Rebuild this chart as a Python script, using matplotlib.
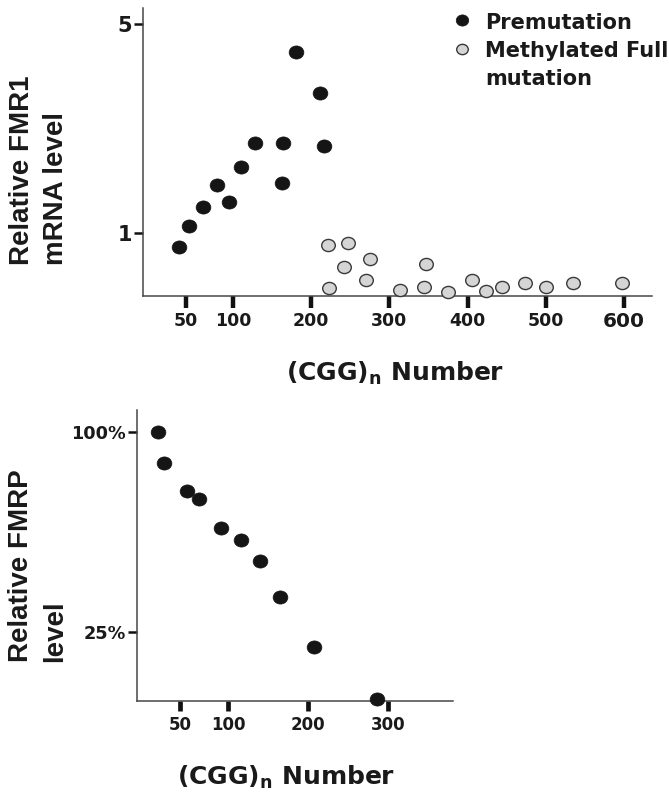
import numpy as np
import matplotlib
matplotlib.use("Agg")
import matplotlib.pyplot as plt
from matplotlib.path import Path
from matplotlib.transforms import Affine2D
from matplotlib.ticker import NullLocator
from matplotlib import font_manager as fm

# ---------------- data ----------------
pre_cgg = [42, 53, 68, 83, 96, 110, 128, 163, 164, 181, 211, 216]
pre_mrna = [0.90, 1.06, 1.22, 1.45, 1.27, 1.66, 2.00, 1.47, 2.00, 4.02, 2.94, 1.96]

full_cgg = [222, 223, 242, 247, 270, 275, 314, 344, 347, 375, 406, 424, 444, 473, 500, 535, 597]
full_mrna = [0.912, 0.654, 0.772, 0.928, 0.698, 0.821, 0.648, 0.662, 0.790, 0.637,
             0.698, 0.640, 0.662, 0.682, 0.662, 0.682, 0.682]

fmrp_cgg = [27, 33, 57, 70, 93, 116, 140, 165, 207, 286]
fmrp_pct = [100, 88.6, 78.0, 74.9, 64.2, 59.6, 51.6, 38.1, 19.6, 0]

top_xticks = [50, 100, 200, 300, 400, 500, 600]
top_yticks = [1, 5]
bot_xticks = [50, 100, 200, 300]
bot_yticks = [25, 100]
bot_ylabels = ["25%", "100%"]

legend_labels = ["Premutation", "Methylated Full\nmutation"]

# ---------------- style ----------------
W, H = 669, 796
fig = plt.figure(figsize=(W / 100, H / 100), dpi=100)
TXT = "#1a1a1a"
HF = "DejaVu Sans"
names = {f.name for f in fm.fontManager.ttflist}
if "Liberation Sans Narrow" in names:
    YFAM, YSIZE = "Liberation Sans Narrow", 24
else:
    YFAM, YSIZE = "Liberation Sans", 20

# slightly wide ellipse marker (the figure is stretched horizontally)
ell = Path.unit_circle().transformed(Affine2D().scale(1.12, 1.0))


def fwd(x):
    x = np.asarray(x, float)
    return np.where(x < 100, 100 - (100 - x) * 1.2, x)


def inv(u):
    u = np.asarray(u, float)
    return np.where(u < 100, 100 - (100 - u) / 1.2, u)


def style_axes(ax, xlen, xw, ylen, yw):
    for s in ("top", "right"):
        ax.spines[s].set_visible(False)
    for s in ("left", "bottom"):
        ax.spines[s].set_color("#474747")
        ax.spines[s].set_linewidth(1.1)
    ax.tick_params(axis="x", direction="out", length=xlen, width=xw, color="#111111", pad=3)
    ax.tick_params(axis="y", direction="out", length=ylen, width=yw, color="#111111", pad=1.5)
    ax.xaxis.set_minor_locator(NullLocator())
    ax.yaxis.set_minor_locator(NullLocator())


def px_box(l, t, r, b):
    return [l / W, 1 - b / H, (r - l) / W, (b - t) / H]


# ---------------- top panel ----------------
ax1 = fig.add_axes(px_box(143, 8.3, 652, 296))
ax1.set_xscale("function", functions=(fwd, inv))
ax1.set_yscale("log")
ax1.set_xlim(4.1, 635.8)
ax1.set_ylim(0.617, 5.64)

h1, = ax1.plot(pre_cgg, pre_mrna, ls="none", marker=ell, ms=10.6,
               mfc="#151515", mec="#151515", mew=0.5, label=legend_labels[0], zorder=3)
h2, = ax1.plot(full_cgg, full_mrna, ls="none", marker=ell, ms=9.8,
               mfc="#d5d5d5", mec="#3a3a3a", mew=1.0, label=legend_labels[1], zorder=3,
               clip_on=False)

style_axes(ax1, 8.5, 3.2, 6.5, 1.8)
ax1.set_xticks(top_xticks, [str(v) for v in top_xticks],
               fontsize=12.5, fontweight="bold", family=HF, color=TXT)
ax1.get_xticklabels()[-1].set_fontsize(14.5)
ax1.set_yticks(top_yticks, [str(v) for v in top_yticks],
               fontsize=15, fontweight="bold", family=HF, color=TXT)

ax1.set_xlabel(r"(CGG)$_{\mathregular{n}}$ Number", fontsize=18, fontweight="bold",
               family=HF, color=TXT)
ax1.xaxis.set_label_coords(395 / W, 1 - 381 / H, transform=fig.transFigure)
ax1.xaxis.label.set_va("baseline")

ax1.set_ylabel("Relative FMR1\nmRNA level", fontsize=YSIZE, fontweight="bold",
               family=YFAM, color=TXT, multialignment="left", linespacing=1.4)
ax1.yaxis.set_label_coords(39 / W, 1 - 265 / H, transform=fig.transFigure)
ax1.yaxis.label.set_rotation_mode("default")
ax1.yaxis.label.set_ha("center")
ax1.yaxis.label.set_va("bottom")

fs_leg = 15
leg = ax1.legend(handles=[h1, h2], labels=legend_labels, loc="upper left",
                 bbox_to_anchor=(453.4 / W, 1 - 12.7 / H), bbox_transform=fig.transFigure,
                 frameon=False, borderpad=0, borderaxespad=0, handlelength=0.8,
                 handletextpad=0.72, labelspacing=0.42, markerscale=0.85,
                 prop={"family": HF, "weight": "bold", "size": fs_leg})
for t in leg.get_texts():
    t.set_color(TXT)
    t.set_linespacing(1.5)
try:
    col = leg._legend_handle_box.get_children()[0]
    for item in col.get_children():
        item.align = "top"
except Exception:
    pass

# ---------------- bottom panel ----------------
ax2 = fig.add_axes(px_box(136.7, 410, 452.7, 701))
ax2.set_xscale("function", functions=(fwd, inv))
ax2.set_xlim(4.9, 380.9)
ax2.set_ylim(-0.76, 108.4)

ax2.plot(fmrp_cgg, fmrp_pct, ls="none", marker=ell, ms=10.6,
         mfc="#151515", mec="#151515", mew=0.5, zorder=3, clip_on=False)

style_axes(ax2, 7.5, 3.4, 6.5, 1.8)
ax2.set_xticks(bot_xticks, [str(v) for v in bot_xticks],
               fontsize=12, fontweight="bold", family=HF, color=TXT)
ax2.set_yticks(bot_yticks, bot_ylabels,
               fontsize=12.7, fontweight="bold", family=HF, color=TXT)

ax2.set_xlabel(r"(CGG)$_{\mathregular{n}}$ Number", fontsize=18, fontweight="bold",
               family=HF, color=TXT)
ax2.xaxis.set_label_coords(286 / W, 1 - 785 / H, transform=fig.transFigure)
ax2.xaxis.label.set_va("baseline")

ax2.set_ylabel("Relative FMRP\nlevel", fontsize=YSIZE, fontweight="bold",
               family=YFAM, color=TXT, multialignment="left", linespacing=1.4)
ax2.yaxis.set_label_coords(38 / W, 1 - 662 / H, transform=fig.transFigure)
ax2.yaxis.label.set_rotation_mode("default")
ax2.yaxis.label.set_ha("center")
ax2.yaxis.label.set_va("bottom")

fig.savefig("out.png", dpi=100)
